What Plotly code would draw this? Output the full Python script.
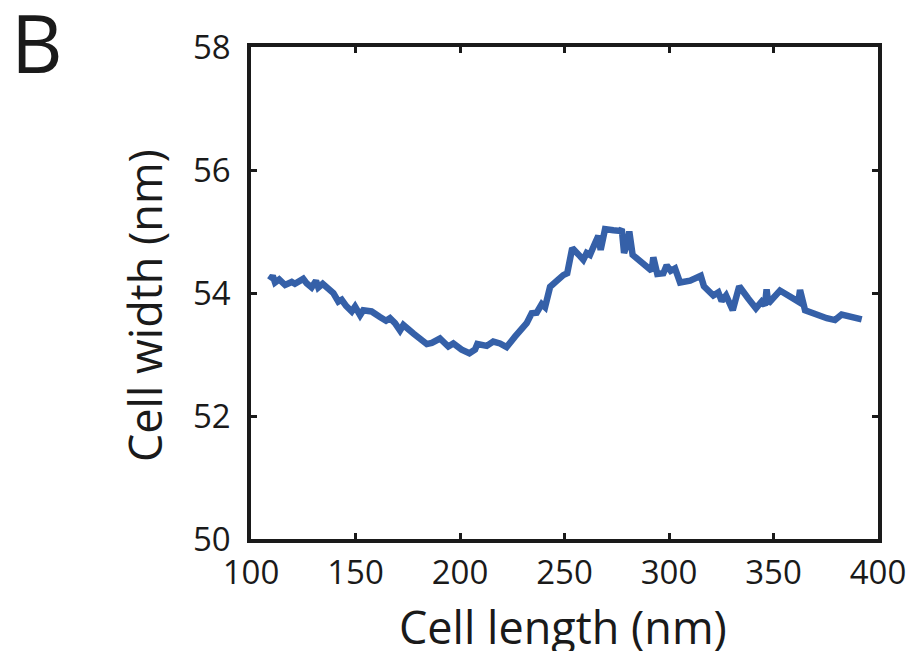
import plotly.graph_objects as go

cell_length = [109, 110.4, 111.5, 113.5, 116.3, 119.5, 121, 123.1, 125, 126.6, 129, 131.1, 132.2, 134.3,
               136.5, 139.4, 141.8, 143.4, 145.5, 148.2, 149.8, 152.2, 153.7, 157.7, 161.7, 164.6, 166.5,
               168.9, 171.3, 172.9, 177.7, 181.7, 184.1, 186.5, 190.4, 194.4, 196.8, 200.8, 204.5, 207.2,
               208.3, 212.8, 215.9, 219.1, 222.3, 226.3, 230.3, 231.9, 234.3, 236.7, 239.1, 240.7, 243.1,
               245.5, 249.4, 251.3, 253.7, 257.4, 259, 260.6, 262.2, 264.6, 266.2, 267.3, 269.4, 273.4,
               276.6, 277.4, 278.5, 280.1, 281, 282.6, 286.1, 289.3, 291.7, 292.5, 294.4, 297.3, 298.9,
               300.8, 302.9, 305.3, 310.1, 315.2, 316.7, 321.2, 323.6, 325.2, 327.3, 330.5, 333.6, 337.9,
               341.6, 344.3, 345.9, 346.7, 347.5, 353.1, 361.9, 362.7, 365.1, 375.5, 379.4, 382.6, 392.2]
cell_width = [54.21, 54.28, 54.17, 54.22, 54.13, 54.18, 54.15, 54.21, 54.23, 54.16, 54.09, 54.20, 54.09, 54.15,
              54.09, 54.0, 53.86, 53.89, 53.79, 53.70, 53.78, 53.64, 53.72, 53.70, 53.61, 53.55, 53.59,
              53.51, 53.39, 53.48, 53.34, 53.24, 53.17, 53.19, 53.26, 53.13, 53.18, 53.08, 53.02, 53.08,
              53.17, 53.14, 53.21, 53.18, 53.12, 53.29, 53.46, 53.51, 53.67, 53.68, 53.82, 53.77, 54.10,
              54.18, 54.29, 54.32, 54.73, 54.60, 54.54, 54.65, 54.62, 54.81, 54.93, 54.70, 55.04, 55.02,
              55.01, 55.04, 54.65, 54.81, 55.0, 54.62, 54.53, 54.43, 54.36, 54.58, 54.31, 54.32, 54.45,
              54.36, 54.40, 54.17, 54.20, 54.28, 54.11, 53.96, 54.01, 53.87, 53.96, 53.72, 54.11, 53.91,
              53.75, 53.86, 53.80, 54.06, 53.83, 54.04, 53.86, 54.05, 53.72, 53.59, 53.56, 53.65, 53.57]

x_ticks = [100, 150, 200, 250, 300, 350, 400]
y_ticks = [50, 52, 54, 56, 58]

FONT = "Open Sans"
INK = "#1a1a1a"

fig = go.Figure()
fig.add_trace(go.Scatter(x=cell_length, y=cell_width, mode="lines",
                         line=dict(color="#3560a8", width=6.5), showlegend=False))

axis_common = dict(showline=True, linecolor=INK, linewidth=3.5, mirror="allticks",
                   ticks="inside", ticklen=6, tickwidth=3, tickcolor=INK,
                   showgrid=False, zeroline=False, automargin=False,
                   tickfont=dict(family=FONT, size=33, color=INK))

fig.update_xaxes(range=[100, 400], tickvals=x_ticks, ticktext=[str(v) for v in x_ticks],
                 ticklabelstandoff=2, **axis_common)
fig.update_yaxes(range=[50, 58], tickvals=y_ticks, ticktext=[str(v) for v in y_ticks],
                 ticklabelstandoff=10, **axis_common)

fig.add_annotation(text="Cell length (nm)", xref="paper", yref="paper", x=0.4976, y=-0.178,
                   xanchor="center", yanchor="middle", showarrow=False,
                   font=dict(family=FONT, size=45, color=INK))
fig.add_annotation(text="Cell width (nm)", xref="paper", yref="paper", x=-0.169, y=0.4736,
                   xanchor="center", yanchor="middle", showarrow=False, textangle=-90,
                   font=dict(family=FONT, size=45, color=INK))
fig.add_annotation(text="B", xref="paper", yref="paper", x=-0.342, y=1.012,
                   xanchor="center", yanchor="middle", showarrow=False,
                   font=dict(family=FONT, size=80, color=INK))

fig.update_layout(width=912, height=651, margin=dict(l=251, r=34, t=47, b=112),
                  paper_bgcolor="white", plot_bgcolor="white")

fig.write_html("out.html", config={"displayModeBar": False},
               post_script="document.body.style.margin='0';")
